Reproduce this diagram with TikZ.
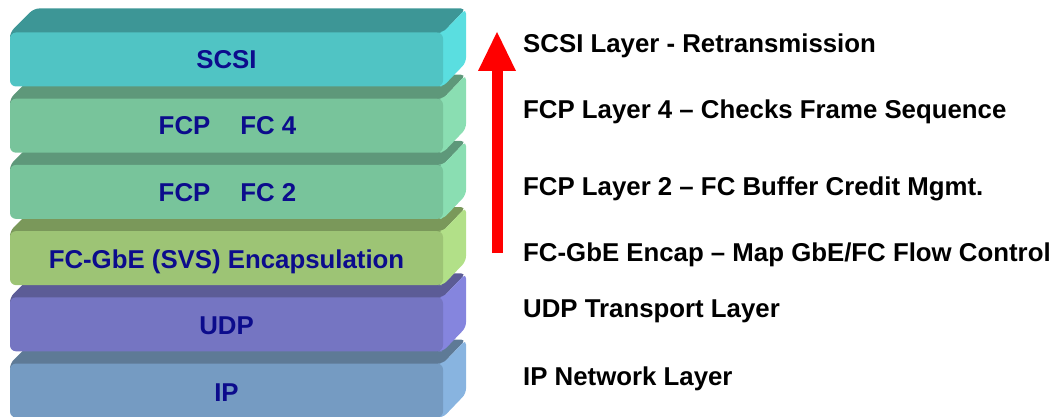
\documentclass[tikz,border=0pt]{standalone}
\usepackage{fontspec}
\setmainfont{Liberation Sans}
\usetikzlibrary{arrows.meta}

% face colours: front, top, side
\definecolor{scsiF}{HTML}{50C4C4}\definecolor{scsiT}{HTML}{3D9696}\definecolor{scsiS}{HTML}{5ADEE0}
\definecolor{fcpF}{HTML}{78C49B}\definecolor{fcpT}{HTML}{5E987A}\definecolor{fcpS}{HTML}{8ADEB2}
\definecolor{gbeF}{HTML}{9DC475}\definecolor{gbeT}{HTML}{7A985A}\definecolor{gbeS}{HTML}{B2E088}
\definecolor{udpF}{HTML}{7575C2}\definecolor{udpT}{HTML}{5C5C96}\definecolor{udpS}{HTML}{8585DE}
\definecolor{ipF}{HTML}{759BC2}\definecolor{ipT}{HTML}{5E7A96}\definecolor{ipS}{HTML}{88B4E0}
\definecolor{labelblue}{HTML}{0C0C8C}
\definecolor{arrowred}{HTML}{FF0000}

\tikzset{
  layertext/.style={font=\fontsize{25.8}{30}\selectfont\bfseries, text=labelblue,
    anchor=base, inner sep=0pt},
  notetext/.style={font=\fontsize{25.8}{30}\selectfont\bfseries, text=black,
    anchor=base west, inner sep=0pt},
}

% one slab of the stack: #1 = y of the front's top edge, #2/#3/#4 = front/top/side colours
\newcommand{\layerslab}[4]{%
  \fill[#3, rounded corners=5pt] (10,#1+8) -- (10,#1) -- (34,#1-24) -- (466,#1-24) -- (443,#1) -- (443,#1+8) -- cycle;
  \fill[#4, rounded corners=5pt] (437,#1) -- (443,#1) -- (466,#1-24) -- (466,#1+30) -- (443,#1+54) -- (437,#1+54) -- cycle;
  \fill[#2, rounded corners=6pt] (10,#1) rectangle (443,#1+54);
}

\begin{document}
\begin{tikzpicture}[x=1pt, y=-1pt]
  \useasboundingbox (0,0) rectangle (1055,417);

  % stack, drawn from the bottom up so each slab hides the one below
  \layerslab{363.5}{ipF}{ipT}{ipS}
  \layerslab{297.3}{udpF}{udpT}{udpS}
  \layerslab{231.1}{gbeF}{gbeT}{gbeS}
  \layerslab{164.9}{fcpF}{fcpT}{fcpS}
  \layerslab{98.7}{fcpF}{fcpT}{fcpS}
  \layerslab{32.5}{scsiF}{scsiT}{scsiS}

  % layer names
  \node[layertext] (scsi) at (226.5,69)  {SCSI};
  \node[layertext] (fc4)  at (227.5,135) {FCP\hspace{30pt}FC 4};
  \node[layertext] (fc2)  at (227.5,201) {FCP\hspace{30pt}FC 2};
  \node[layertext] (gbe)  at (226.5,268) {FC-GbE (SVS) Encapsulation};
  \node[layertext] (udp)  at (226.5,334) {UDP};
  \node[layertext] (ip)   at (226.5,401) {IP};

  % upward arrow
  \coordinate (arrowfoot) at (497,253);
  \coordinate (arrowtip)  at (497,32);
  \draw[arrowred, line width=11pt,
        -{Triangle[length=39pt, width=38pt, line width=0pt]}] (arrowfoot) -- (arrowtip);

  % descriptions
  \node[notetext] (dscsi) at (523,53)  {SCSI Layer - Retransmission};
  \node[notetext] (dfc4)  at (523,119) {FCP Layer 4 – Checks Frame Sequence};
  \node[notetext] (dfc2)  at (523,195) {FCP Layer 2 – FC Buffer Credit Mgmt.};
  \node[notetext] (dgbe)  at (523,261) {FC-GbE Encap – Map GbE/FC Flow Control};
  \node[notetext] (dudp)  at (523,317) {UDP Transport Layer};
  \node[notetext] (dip)   at (523,385) {IP Network Layer};
\end{tikzpicture}
\end{document}
